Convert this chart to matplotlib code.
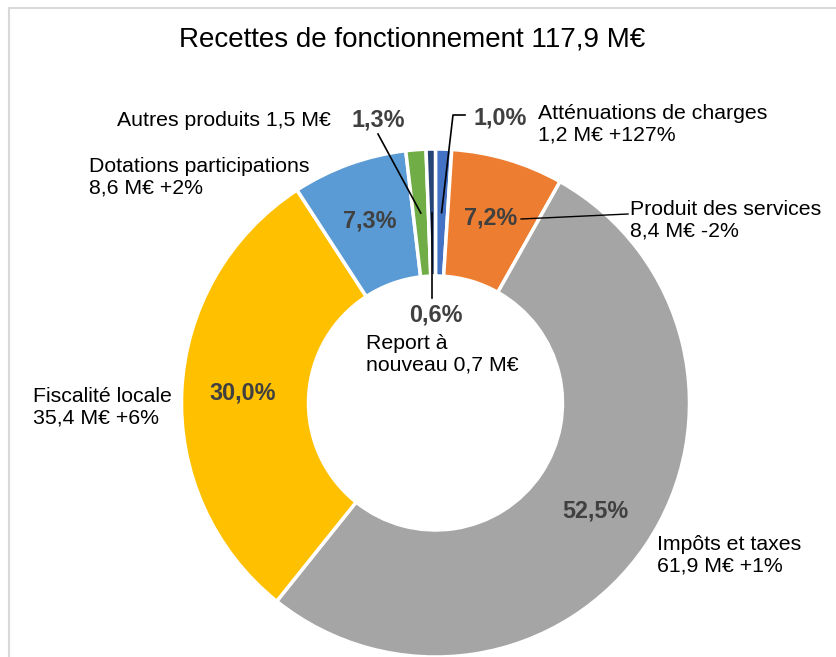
import matplotlib.pyplot as plt
import numpy as np
from matplotlib.patches import Rectangle

plt.rcParams['font.family'] = ['Liberation Sans', 'DejaVu Sans']

# Data (M€, share of total as printed on the chart)
categories = ['Atténuations de charges', 'Produit des services', 'Impôts et taxes',
              'Fiscalité locale', 'Dotations participations', 'Autres produits',
              'Report à nouveau']
amounts = [1.2, 8.4, 61.9, 35.4, 8.6, 1.5, 0.7]
shares = ['1,0%', '7,2%', '52,5%', '30,0%', '7,3%', '1,3%', '0,6%']
labels = ['Atténuations de charges\n1,2 M€ +127%',
          'Produit des services\n8,4 M€ -2%',
          'Impôts et taxes\n61,9 M€ +1%',
          'Fiscalité locale\n35,4 M€ +6%',
          'Dotations participations\n8,6 M€ +2%',
          'Autres produits 1,5 M€',
          'Report à\nnouveau 0,7 M€']
colors = ['#4472C4', '#ED7D31', '#A5A5A5', '#FFC000', '#5B9BD5', '#70AD47', '#264478']
title = 'Recettes de fonctionnement 117,9 M€'

W, H = 837, 657


def px(x, y):
    # image pixel coords -> data coords
    return x, H - y


fig = plt.figure(figsize=(W / 100, H / 100), dpi=100)
ax = fig.add_axes([0, 0, 1, 1])

cx, cy = px(435.5, 403)
R = 254
wedges, _ = ax.pie(amounts, colors=colors, startangle=90, counterclock=False,
                   radius=R, center=(cx, cy),
                   wedgeprops=dict(width=R / 2, edgecolor='white', linewidth=2.5))
ax.set_xlim(0, W)
ax.set_ylim(0, H)
ax.set_aspect('equal')
ax.axis('off')

# chart frame (only top and left visible in the crop)
ax.add_patch(Rectangle(px(9, H + 20), 900, H + 12, fill=False,
                       edgecolor='#D9D9D9', lw=1.5, clip_on=False))

ax.text(*px(412, 40), title, fontsize=20, ha='center', va='center', color='black')


def mid_point(w, frac=0.75):
    a = np.deg2rad((w.theta1 + w.theta2) / 2)
    return cx + frac * R * np.cos(a), cy + frac * R * np.sin(a)


pct_kw = dict(fontsize=16.8, fontweight='bold', color='#404040', ha='center', va='center')
cat_kw = dict(fontsize=15.3, color='black', va='center', linespacing=1.18)

# percentage labels on the large slices
for i in [1, 2, 3, 4]:
    x, y = mid_point(wedges[i], 0.76)
    ax.text(x, y, shares[i], **pct_kw)

# small slices with leader lines
ax.text(*px(500, 118), shares[0], **pct_kw)
mx, my = mid_point(wedges[0])
ax.plot([px(465, 115)[0], px(453, 115)[0], mx], [px(465, 115)[1], px(453, 115)[1], my],
        color='black', lw=1.2)

ax.text(*px(378, 120), shares[5], **pct_kw)
mx, my = mid_point(wedges[5])
ax.plot([378, mx], [px(0, 134)[1], my], color='black', lw=1.2)

ax.text(*px(436, 315), shares[6], **pct_kw)
mx, my = mid_point(wedges[6])
ax.plot([mx, mx], [my, px(0, 298)[1]], color='black', lw=1.2)

# leader between 7,2% and its category label
ax.plot([px(521, 219)[0], px(628, 214)[0]], [px(521, 219)[1], px(628, 214)[1]],
        color='black', lw=1.0)

# category labels
ax.text(*px(538, 124.5), labels[0], ha='left', **cat_kw)
ax.text(*px(630, 220), labels[1], ha='left', **cat_kw)
ax.text(*px(657, 555), labels[2], ha='left', **cat_kw)
ax.text(*px(33, 407), labels[3], ha='left', **cat_kw)
ax.text(*px(89, 177.5), labels[4], ha='left', **cat_kw)
ax.text(*px(117, 120), labels[5], ha='left', **cat_kw)
ax.text(*px(366, 354.5), labels[6], ha='left', **cat_kw)

fig.savefig('out.png', dpi=100)
